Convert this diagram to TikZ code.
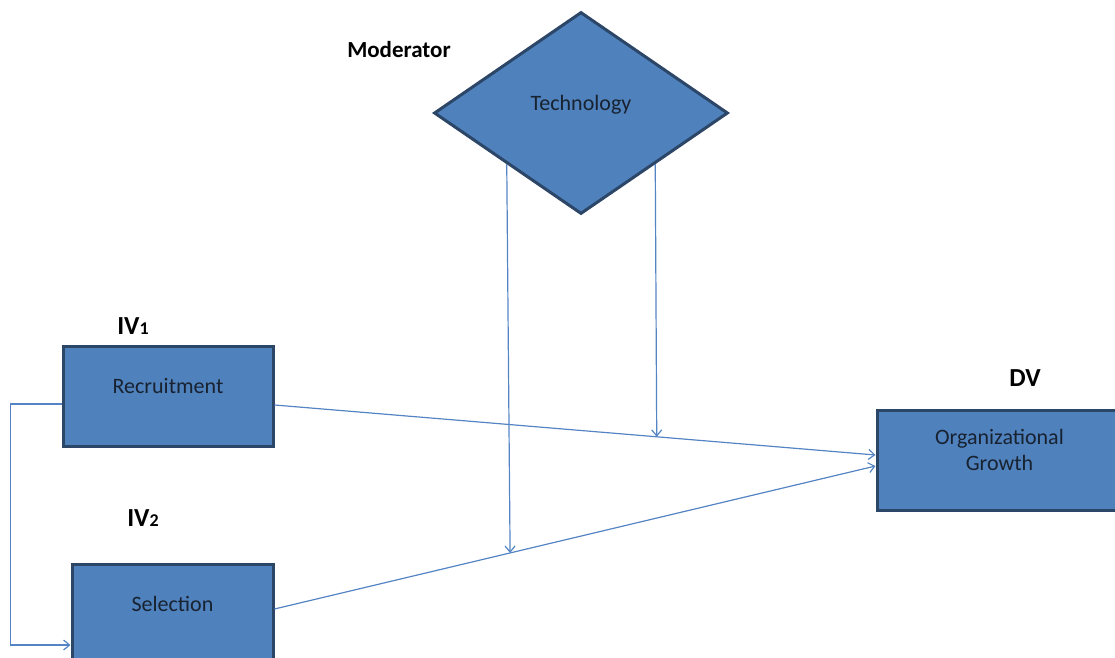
\documentclass[tikz,border=0pt]{standalone}
\usepackage{fontspec}
\setmainfont{Carlito}
\usetikzlibrary{arrows.meta, positioning, shapes.geometric}
\definecolor{cBox}{RGB}{79,129,189}
\definecolor{cEdge}{RGB}{44,70,104}
\definecolor{cLink}{RGB}{84,132,196}
\definecolor{cTxt}{RGB}{24,34,48}

\begin{document}
\begin{tikzpicture}[x=0.5pt, y=-0.5pt,
          var/.style={draw=cEdge, line width=1.5pt, fill=cBox, text=cTxt,
                      font=\fontsize{11}{13}\selectfont, align=center, text depth=10pt},
          box/.style={var, rectangle, minimum height=50pt},
          tag/.style={font=\bfseries\fontsize{13}{15}\selectfont},
          link/.style={draw=cLink, line width=0.6pt},
          >={Straight Barb[length=3pt, width=5pt]}]
        \useasboundingbox (0,0) rectangle (1115,658);
        % variables
        \node[var, diamond, minimum width=147pt, minimum height=101pt] (tech) at (581,113) {Technology};
        \node[box, minimum width=105pt] (rec) at (168,396) {Recruitment};
        \node[box, minimum width=100.5pt] (sel) at (172.5,614) {Selection};
        \node[box, minimum width=122.5pt] (dv) at (999.5,460) {Organizational\\Growth};
        % labels
        \node[font=\bfseries\fontsize{11.5}{13}\selectfont] (modlbl) at (399,50) {Moderator};
        \node[tag] (iv1) at (133,326) {IV{\fontsize{9}{9}\selectfont 1}};
        \node[tag] (iv2) at (143,518) {IV{\fontsize{9}{9}\selectfont 2}};
        \node[tag] (dvlbl) at (1025,378) {DV};
        % direct effects
        \draw[link, ->] ([yshift=-4.5pt]rec.east) -- coordinate[pos=0.636] (onrec) ([yshift=2.5pt]dv.west);
        \draw[link, ->] ([yshift=2.5pt]sel.east) -- coordinate[pos=0.392] (onsel) ([yshift=-3pt]dv.west);
        \draw[link, ->] ([yshift=-4pt]rec.west) -- ++(-51,0) |- ([yshift=-15.5pt]sel.west);
        % moderation
        \draw[link, ->] (tech.south west) -- (onsel);
        \draw[link, ->] (tech.south east) -- (onrec);
      \end{tikzpicture}
\end{document}
